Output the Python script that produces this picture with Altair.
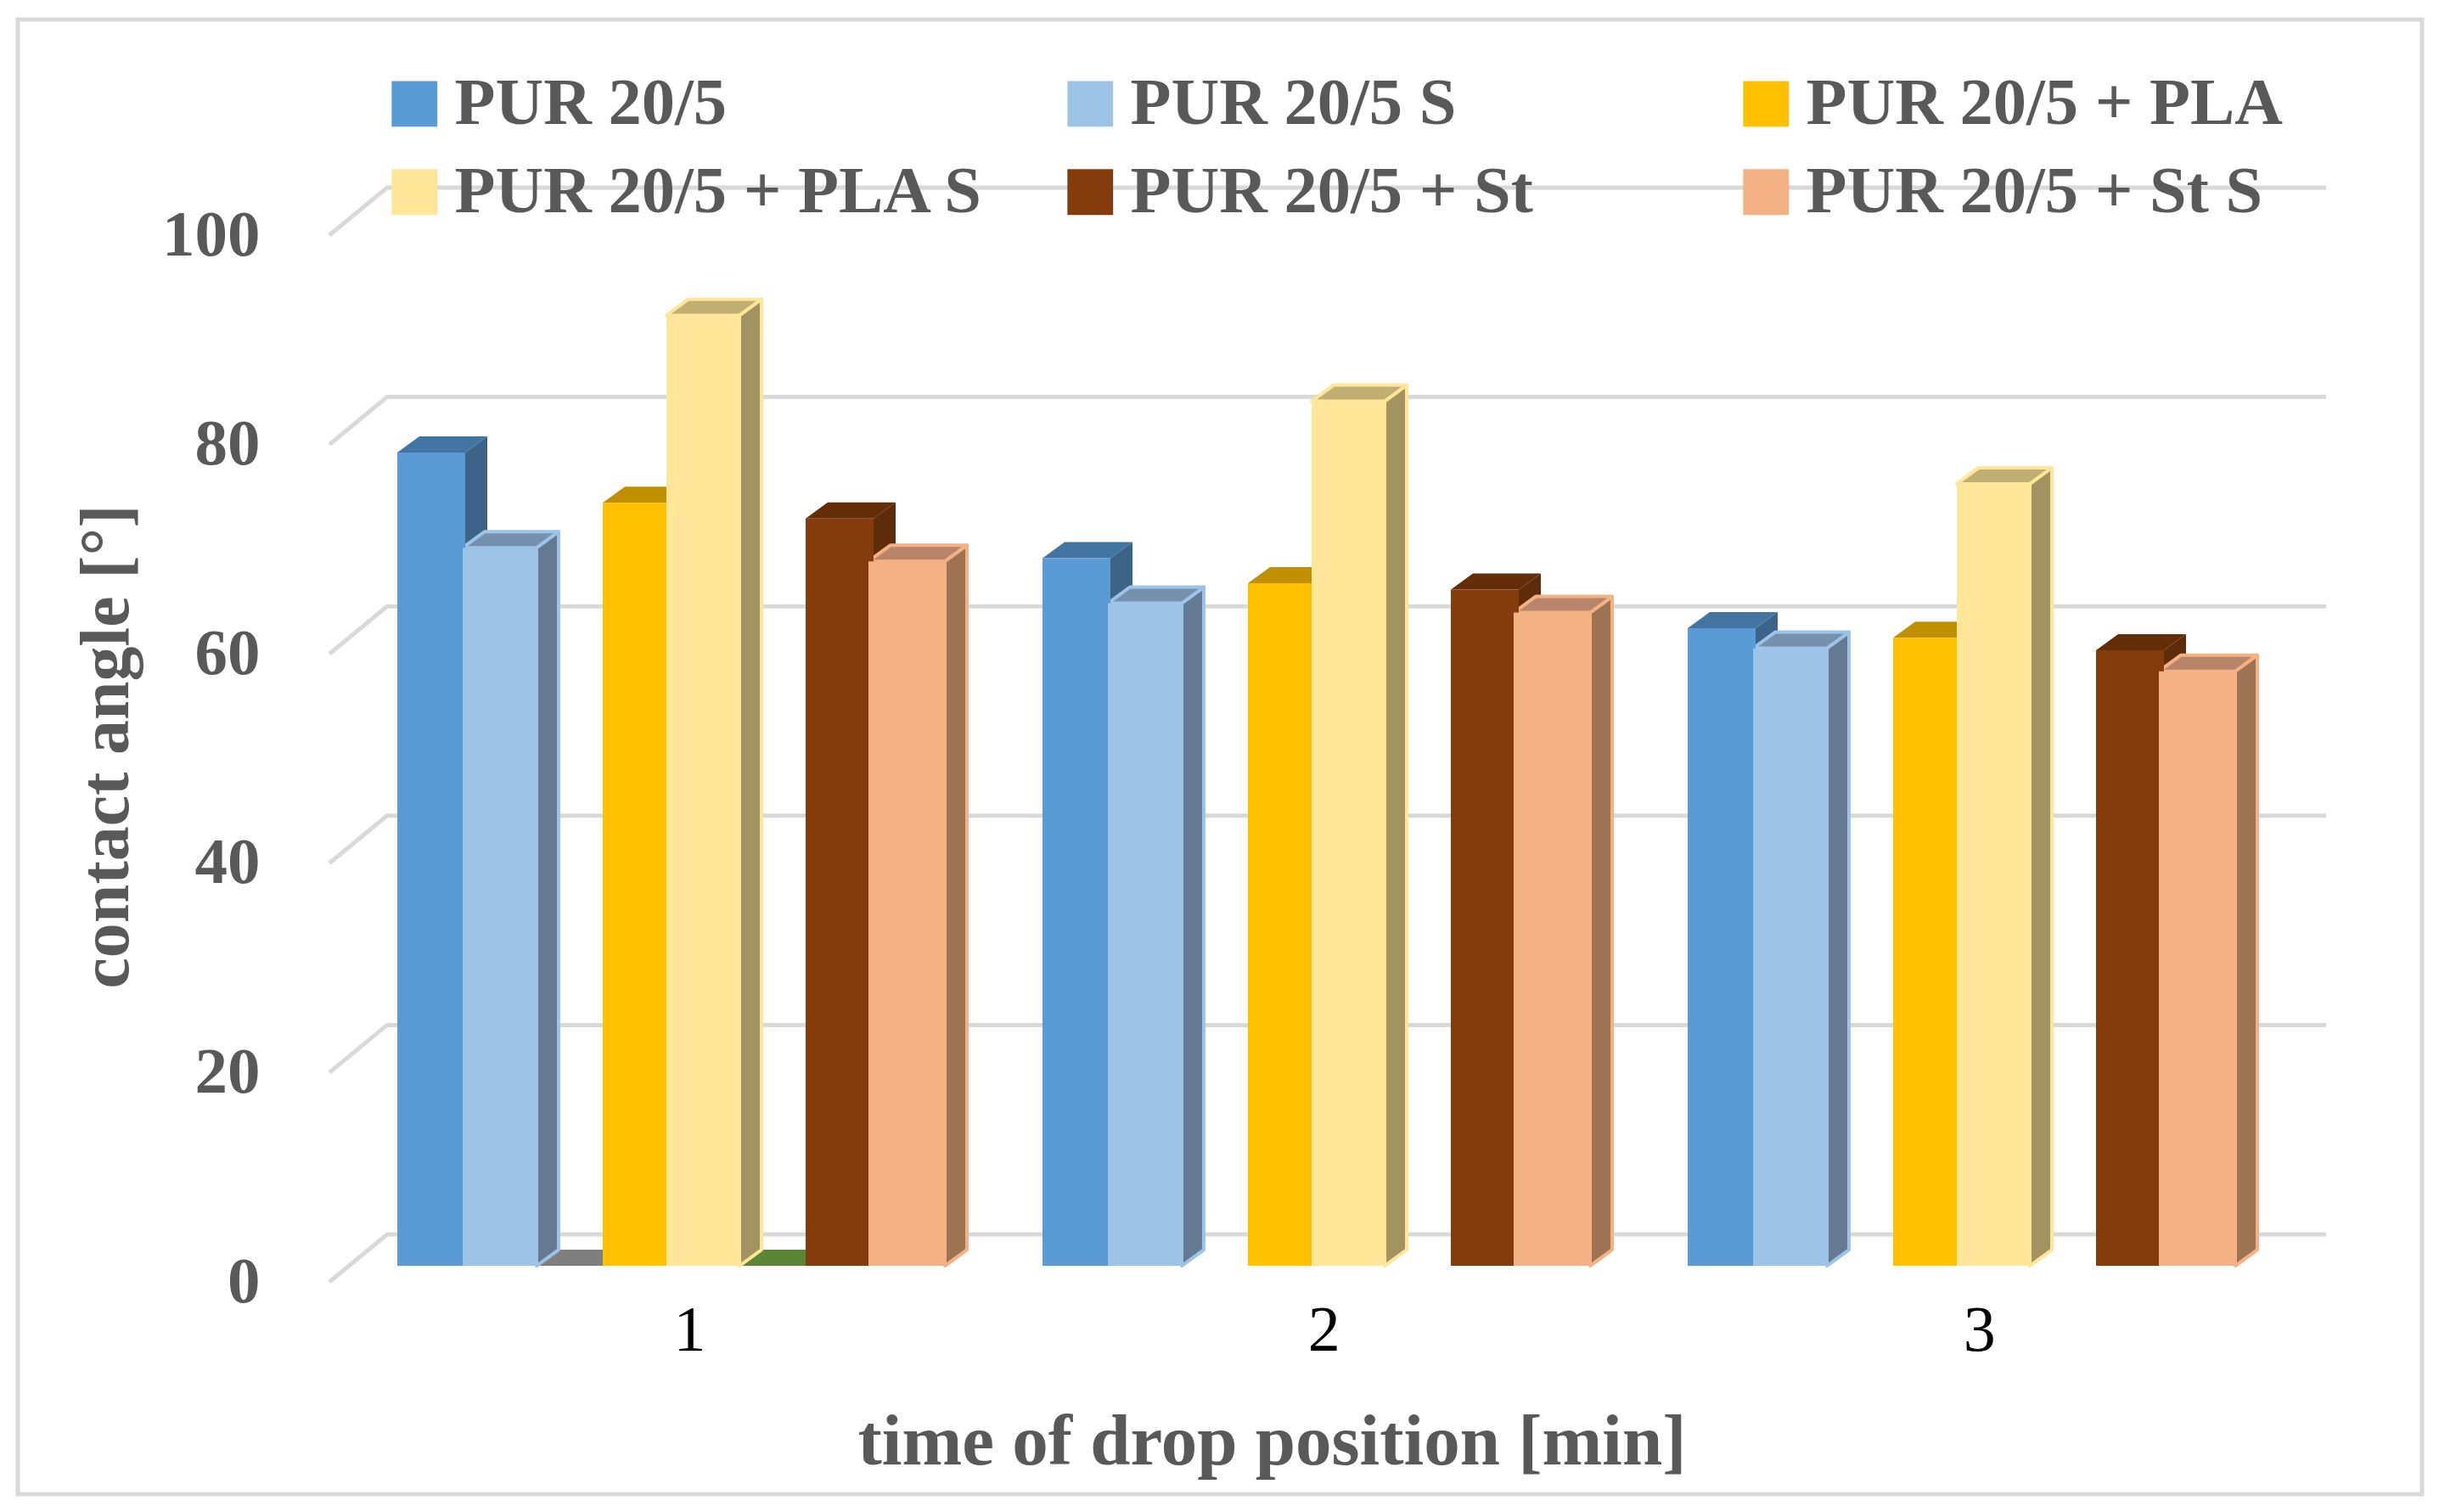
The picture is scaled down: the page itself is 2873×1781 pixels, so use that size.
import altair as alt
import pandas as pd

series = ["PUR 20/5", "PUR 20/5 S", "PUR 20/5 + PLA", "PUR 20/5 + PLA S", "PUR 20/5 + St", "PUR 20/5 + St S"]
minutes = [1, 2, 3]
v_pur = [77.7, 67.6, 60.9]
v_pur_s = [68.6, 63.3, 59.0]
v_pla = [72.9, 65.2, 60.0]
v_pla_s = [90.8, 82.6, 74.7]
v_st = [71.4, 64.6, 58.8]
v_st_s = [67.3, 62.4, 56.8]
values = [v_pur, v_pur_s, v_pla, v_pla_s, v_st, v_st_s]
front_colors = ["#5B9BD5", "#9DC3E6", "#FFC000", "#FFE699", "#843C0C", "#F4B183"]
side_colors = ["#3B6488", "#647A93", "#A67D00", "#A39361", "#5F2C09", "#9E7353"]
top_colors = ["#4275A1", "#7691AE", "#C09000", "#C0AE72", "#632D08", "#B8856A"]
edge_colors = ["#3B6488", "#9DC3E6", "#C09000", "#FFE699", "#5F2C09", "#F4B183"]
edge_widths = [0, 4, 0, 4, 0, 4]
hidden_series = [("#7F7F7F", 622), ("#5A8636", 863)]   # zero-valued series seen on the floor

# geometry (px on the reference)
PW, PH = 2352, 1233
X0, Y0 = 388, 277
PITCH = 760.0
CENTER = 803
PXV = 12.33
def gx(px):
    return 1 + (px - CENTER) / PITCH
BASE = 1.54
DX = 26 / PITCH
DZ = 19 / PXV
WALL_DX, WALL_DZ = 68, 4.54
lefts = [468, 545, 710, 785, 949, 1023]
widths = [80, 87, 80, 86, 80, 90]

front, faces = [], []
def add_faces(bar, L, R, v, sc, tc, ec, sw):
    v1 = v + BASE
    for x, a, b in [(R, BASE, v1), (R + DX, BASE + DZ, v1 + DZ)]:
        faces.append(dict(bar=bar + "s", x=x, a=a, b=b, fill=sc, edge=ec, sw=sw))
    for x, a, b in [(L, v1, v1), (L + DX, v1, v1 + DZ), (R, v1, v1 + DZ), (R + DX, v1 + DZ, v1 + DZ)]:
        faces.append(dict(bar=bar + "t", x=x, a=a, b=b, fill=tc, edge=ec, sw=sw))

for i, (c, px) in enumerate(hidden_series):
    add_faces(f"z{i}", gx(px), gx(px + 88), 0, c, c, c, 0)

for g in range(3):
    for s, name in enumerate(series):
        L = gx(lefts[s] + g * PITCH)
        R = gx(lefts[s] + widths[s] + g * PITCH)
        v = values[s][g]
        add_faces(f"{g}-{s}", L, R, v, side_colors[s], top_colors[s], edge_colors[s], edge_widths[s])
        front.append(dict(series=name, x=L, x2=R, y=BASE, y2=v + BASE))

grid = []
for t in range(0, 101, 20):
    for x, y in [(gx(X0), t), (gx(X0 + WALL_DX), t + WALL_DZ), (gx(2740), t + WALL_DZ)]:
        grid.append(dict(t=t, x=x, y=y))

xs = alt.Scale(domain=[gx(X0), gx(X0 + PW)], nice=False, zero=False)
ys = alt.Scale(domain=[0, 100], nice=False)
FONT = "Liberation Serif"
GREY = "#595959"

x_axis = alt.Axis(
    values=[1.012, 1.995, 3.011], format=".0f", title="time of drop position [min]",
    domain=False, ticks=False, grid=False,
    labelFont=FONT, labelFontSize=76, labelColor="black", labelBaseline="middle", labelPadding=57, labelFlush=False,
    titleFont=FONT, titleFontSize=85, titleFontWeight="bold", titleColor=GREY,
    titleX=1110, titleY=188, titleBaseline="middle", titleAlign="center",
)
y_axis = alt.Axis(
    values=list(range(0, 101, 20)), title="contact angle [°]",
    domain=False, ticks=False, grid=False,
    labelFont=FONT, labelFontSize=77, labelFontWeight="bold", labelColor=GREY, labelPadding=82,
    titleFont=FONT, titleFontSize=82, titleFontWeight="bold", titleColor=GREY,
    titleX=-263, titleY=602, titleBaseline="middle", titleAlign="center", titleAngle=-90,
)

frame = alt.Chart(pd.DataFrame({"a": [0]})).mark_rect(
    fillOpacity=0, stroke="#D9D9D9", strokeWidth=5
).encode(x=alt.value(21 - X0), x2=alt.value(2853 - X0), y=alt.value(23 - Y0), y2=alt.value(1760 - Y0))

grid_layer = alt.Chart(pd.DataFrame(grid)).mark_line(color="#D9D9D9", strokeWidth=5).encode(
    x=alt.X("x:Q", scale=xs, axis=x_axis),
    y=alt.Y("y:Q", scale=ys, axis=y_axis),
    detail="t:N",
)

face_layer = alt.Chart(pd.DataFrame(faces)).mark_area(strokeJoin="round").encode(
    x=alt.X("x:Q", scale=xs, axis=x_axis),
    y=alt.Y("a:Q", scale=ys, axis=y_axis, stack=None),
    y2="b:Q",
    detail="bar:N",
    fill=alt.Fill("fill:N", scale=None),
    stroke=alt.Stroke("edge:N", scale=None),
    strokeWidth=alt.StrokeWidth("sw:Q", scale=None),
)

front_layer = alt.Chart(pd.DataFrame(front)).mark_rect().encode(
    x=alt.X("x:Q", scale=xs, axis=x_axis),
    x2="x2:Q",
    y=alt.Y("y:Q", scale=ys, axis=y_axis),
    y2="y2:Q",
    color=alt.Color("series:N", sort=series, scale=alt.Scale(domain=series, range=front_colors), legend=alt.Legend(
        title=None, orient="none", direction="horizontal", legendX=61, legendY=-194, columns=3, gridAlign="all", padding=0,
        symbolType="square", symbolSize=2900, symbolStrokeWidth=0, symbolOpacity=1,
        labelFont=FONT, labelFontSize=78.5, labelFontWeight="bold", labelColor=GREY, labelLimit=1200,
        labelOffset=8, columnPadding=84, rowPadding=25,
    )),
)

chart = alt.layer(frame, grid_layer, face_layer, front_layer).properties(
    width=PW, height=PH, autosize=alt.AutoSizeParams(type="none"),
    padding={"left": X0 - 8, "top": Y0 - 8, "right": 125, "bottom": 263},
    background="white",
).configure_view(stroke=None)

chart.save("out.html", embed_options={"renderer": "svg", "actions": False})
